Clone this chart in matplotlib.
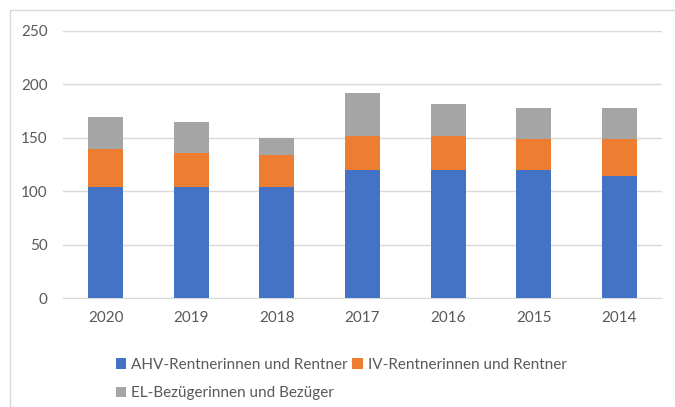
import matplotlib
matplotlib.use("Agg")
import matplotlib.pyplot as plt
from matplotlib.patches import Rectangle

years = ["2020", "2019", "2018", "2017", "2016", "2015", "2014"]
ahv = [104, 104, 104, 120, 120, 120, 114]
iv = [36, 32, 30, 32, 32, 29, 35]
el = [30, 29, 16, 40, 30, 29, 29]
labels = ["AHV-Rentnerinnen und Rentner", "IV-Rentnerinnen und Rentner", "EL-Bezügerinnen und Bezüger"]
colors = ["#4472C4", "#ED7D31", "#A5A5A5"]
yticks = [0, 50, 100, 150, 200, 250]

plt.rcParams['font.family'] = ['Lato', 'DejaVu Sans']
txt = "#595959"

fig = plt.figure(figsize=(6.75, 4.07), dpi=100)
fig.patches.append(Rectangle((9.5/675, -0.1), 1.2, 1 - 10/407 + 0.1, transform=fig.transFigure,
                             fill=False, edgecolor="#D9D9D9", linewidth=1.0))
ax = fig.add_axes([63/675, 1 - 298.3/407, (662 - 63)/675, (298.3 - 31)/407])

x = range(len(years))
b1 = ax.bar(x, ahv, width=0.41, color=colors[0], label=labels[0], zorder=3)
bottom2 = ahv
b2 = ax.bar(x, iv, width=0.41, bottom=bottom2, color=colors[1], label=labels[1], zorder=3)
bottom3 = [a + b for a, b in zip(ahv, iv)]
b3 = ax.bar(x, el, width=0.41, bottom=bottom3, color=colors[2], label=labels[2], zorder=3)

ax.set_xlim(-0.5, len(years) - 0.5)
ax.set_ylim(0, 250)
ax.set_yticks(yticks)
ax.set_xticks(list(x))
ax.set_xticklabels(years)
ax.grid(axis="y", color="#D9D9D9", linewidth=1.0, zorder=0)
for s in ["top", "right", "left"]:
    ax.spines[s].set_visible(False)
ax.spines["bottom"].set_color("#D9D9D9")
ax.tick_params(axis="both", length=0, colors=txt, labelsize=11)
ax.tick_params(axis="y", pad=11)
ax.tick_params(axis="x", pad=9)

fig.legend(handles=[b1, b3, b2], labels=[labels[0], labels[2], labels[1]], ncol=2, loc="upper left",
           bbox_to_anchor=(102/675, 1 - 344/407), frameon=False, fontsize=11,
           labelcolor=txt, handlelength=0.7, handleheight=0.7, handletextpad=0.3,
           columnspacing=0.3, labelspacing=0.95)

fig.savefig("out.png", dpi=100)
